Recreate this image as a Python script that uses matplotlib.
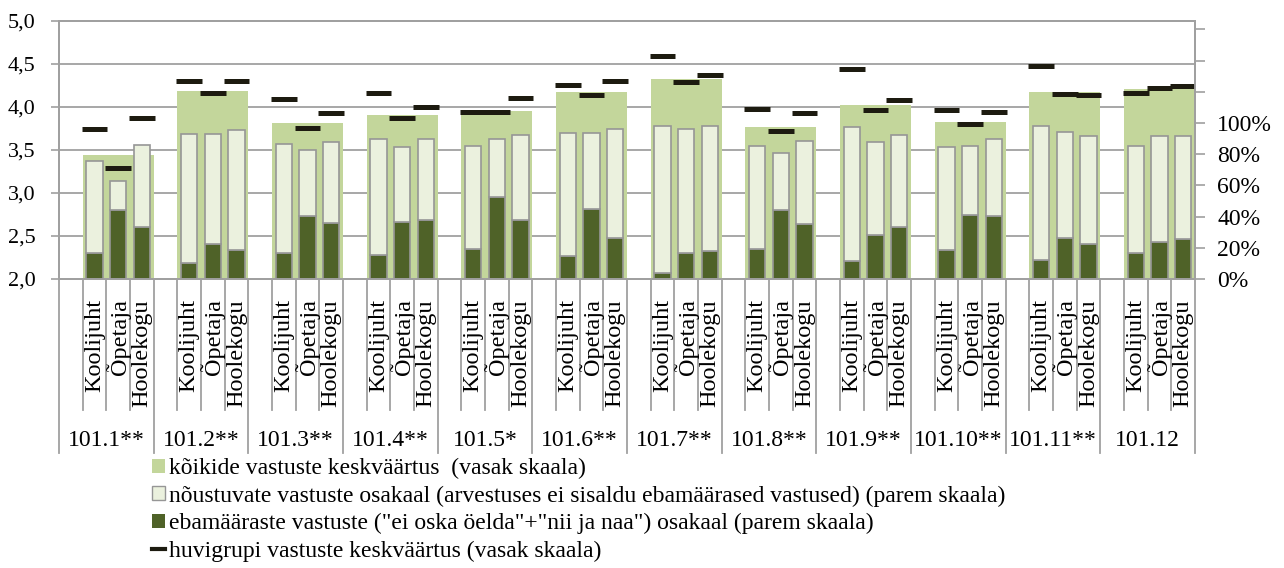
import matplotlib.pyplot as plt
import matplotlib.transforms as mtransforms
from matplotlib.patches import Patch
from matplotlib.lines import Line2D
import numpy as np

plt.rcParams['font.family'] = ['Liberation Serif', 'DejaVu Serif']

groups = ['101.1**', '101.2**', '101.3**', '101.4**', '101.5*', '101.6**',
          '101.7**', '101.8**', '101.9**', '101.10**', '101.11**', '101.12']
subgroups = ['Koolijuht', 'Õpetaja', 'Hoolekogu']

# kõikide vastuste keskväärtus (left scale)
overall_mean = [3.44, 4.19, 3.81, 3.91, 3.95, 4.17, 4.33, 3.77, 4.02, 3.83, 4.17, 4.21]

# huvigrupi keskväärtus (left scale)
mean_koolijuht = [3.75, 4.30, 4.09, 4.16, 3.94, 4.26, 4.59, 3.98, 4.44, 3.97, 4.48, 4.16]
mean_opetaja = [3.29, 4.16, 3.76, 3.87, 3.94, 4.14, 4.29, 3.72, 3.96, 3.80, 4.15, 4.22]
mean_hoolekogu = [3.87, 4.30, 3.93, 4.00, 4.11, 4.30, 4.37, 3.93, 4.08, 3.94, 4.14, 4.25]

# ebamääraste vastuste osakaal (right scale)
vague_koolijuht = [0.169, 0.100, 0.169, 0.154, 0.194, 0.147, 0.040, 0.194, 0.115, 0.186, 0.124, 0.169]
vague_opetaja = [0.444, 0.222, 0.406, 0.367, 0.528, 0.451, 0.169, 0.444, 0.284, 0.412, 0.261, 0.239]
vague_hoolekogu = [0.335, 0.186, 0.361, 0.376, 0.376, 0.261, 0.177, 0.353, 0.335, 0.406, 0.222, 0.254]

# nõustuvate vastuste osakaal (right scale), stacked above the vague share
agree_koolijuht = [0.589, 0.829, 0.698, 0.743, 0.659, 0.789, 0.943, 0.659, 0.859, 0.658, 0.857, 0.684]
agree_opetaja = [0.186, 0.707, 0.421, 0.479, 0.372, 0.485, 0.791, 0.362, 0.596, 0.441, 0.683, 0.676]
agree_hoolekogu = [0.524, 0.771, 0.519, 0.521, 0.545, 0.699, 0.806, 0.530, 0.586, 0.494, 0.693, 0.661]

means = [mean_koolijuht, mean_opetaja, mean_hoolekogu]
vague = [vague_koolijuht, vague_opetaja, vague_hoolekogu]
agree = [agree_koolijuht, agree_opetaja, agree_hoolekogu]

c_green = '#C3D69B'
c_light = '#EBF1DE'
c_dark = '#4F6228'
c_mark = '#1D1B10'
c_grid = '#A0A0A0'
c_edge = '#969696'

fig = plt.figure(figsize=(12.84, 5.68), dpi=100)
ax = fig.add_axes([59/1284, 1-279/568, (1195-59)/1284, 258/568])
ax2 = ax.twinx()
ax3 = ax.twinx()

n = len(groups)
gx = np.arange(n) * 4

# green background bars
ax.bar(gx + 2.5, np.array(overall_mean) - 2, bottom=2, width=3, color=c_green, zorder=2)
ax.set_ylim(2, 5)
ax.set_xlim(0, 4 * n)
ax.set_yticks(np.arange(2, 5.01, 0.5))
ax.set_yticklabels([f'{v:.1f}'.replace('.', ',') for v in np.arange(2, 5.01, 0.5)], fontsize=16)
ax.yaxis.grid(True, color=c_grid, lw=1.3)
ax.set_axisbelow(True)
ax.set_xticks([])
ax.tick_params(axis='y', length=6, width=1.2, color=c_grid, pad=11)

# share bars on right scale
for k in range(3):
    x = gx + k + 1.5
    ax2.bar(x, vague[k], width=0.68, color=c_dark, edgecolor=c_edge, lw=1.2, zorder=3)
    ax2.bar(x, agree[k], bottom=vague[k], width=0.68, color=c_light, edgecolor=c_edge, lw=1.2, zorder=3)
ax2.set_ylim(0, 258/156)
ax2.set_yticks(np.arange(0, 1.61, 0.2))
ax2.set_yticklabels([f'{int(round(v*100))}%' if v <= 1.001 else '' for v in np.arange(0, 1.61, 0.2)], fontsize=17)
ax2.tick_params(axis='y', length=7, width=1.2, color=c_grid, pad=9)

# group mean dashes
for k in range(3):
    x = gx + k + 1.5
    ax3.hlines(means[k], x - 0.54, x + 0.54, color=c_mark, lw=3.6)
ax3.set_ylim(2, 5)
ax3.set_yticks([])

for a in (ax, ax2, ax3):
    for s in a.spines.values():
        s.set_color(c_grid)
        s.set_linewidth(1.3)

# category labels and separators
trans = mtransforms.blended_transform_factory(ax.transData, ax.transAxes)
for g in range(n):
    x0 = gx[g]
    ax.plot([x0, x0], [0, -0.675], transform=trans, color=c_grid, lw=1.3, clip_on=False)
    for k in range(1, 4):
        ax.plot([x0 + k, x0 + k], [0, -0.508], transform=trans, color=c_grid, lw=1.3, clip_on=False)
    for k, name in enumerate(subgroups):
        ax.text(x0 + k + 1.5, -0.078, name, transform=trans, rotation=90, ha='center', va='top', fontsize=17.5)
    ax.text(x0 + 2, -0.625, groups[g], transform=trans, ha='center', va='center', fontsize=17)
ax.plot([4 * n, 4 * n], [0, -0.675], transform=trans, color=c_grid, lw=1.3, clip_on=False)

handles = [Patch(facecolor=c_green, edgecolor='none'),
           Patch(facecolor=c_light, edgecolor=c_edge),
           Patch(facecolor=c_dark, edgecolor='none'),
           Line2D([0], [0], color=c_mark, lw=3)]
labels = ['kõikide vastuste keskväärtus  (vasak skaala)',
          'nõustuvate vastuste osakaal (arvestuses ei sisaldu ebamäärased vastused) (parem skaala)',
          'ebamääraste vastuste ("ei oska öelda"+"nii ja naa") osakaal (parem skaala)',
          'huvigrupi vastuste keskväärtus (vasak skaala)']
fig.legend(handles, labels, loc='upper left', bbox_to_anchor=(152/1284, 1-458/568), frameon=False,
           fontsize=17, handlelength=0.55, handleheight=0.55, handletextpad=0.15, labelspacing=0.27,
           borderpad=0, borderaxespad=0)

fig.savefig('out.png', dpi=100)
